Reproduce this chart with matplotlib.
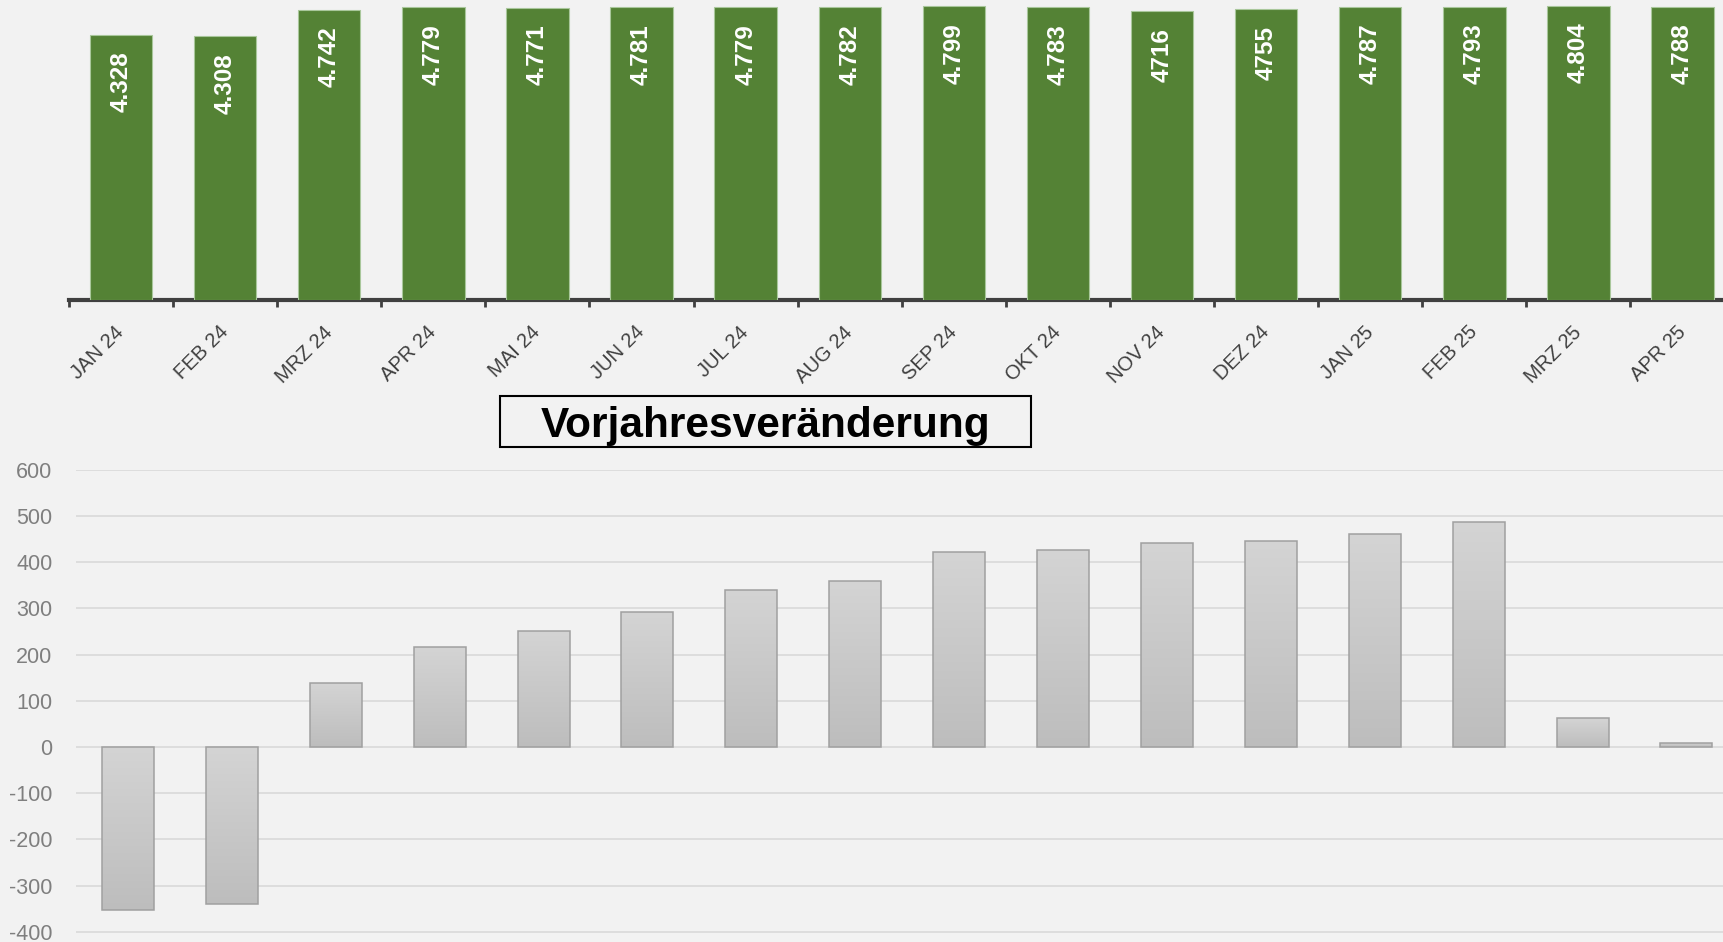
import numpy as np
import matplotlib
matplotlib.use("Agg")
import matplotlib.pyplot as plt
from matplotlib.colors import LinearSegmentedColormap
from matplotlib.patches import Rectangle

plt.rcParams['font.family'] = ['Liberation Sans', 'DejaVu Sans']
plt.rcParams['axes.unicode_minus'] = False

# data
months = ['JAN 24', 'FEB 24', 'MRZ 24', 'APR 24', 'MAI 24', 'JUN 24', 'JUL 24', 'AUG 24',
          'SEP 24', 'OKT 24', 'NOV 24', 'DEZ 24', 'JAN 25', 'FEB 25', 'MRZ 25', 'APR 25']
totals = [4328, 4308, 4742, 4779, 4771, 4781, 4779, 4782,
          4799, 4783, 4716, 4755, 4787, 4793, 4804, 4788]
total_labels = ['4.328', '4.308', '4.742', '4.779', '4.771', '4.781', '4.779', '4.782',
                '4.799', '4.783', '4716', '4755', '4.787', '4.793', '4.804', '4.788']
yoy = [-353, -339, 138, 216, 251, 291, 340, 359,
       421, 426, 441, 446, 460, 486, 62, 9]
yoy_ticks = [600, 500, 400, 300, 200, 100, 0, -100, -200, -300, -400]

W, H = 1724, 942
bg = '#f2f2f2'
fig = plt.figure(figsize=(W / 100, H / 100), dpi=100, facecolor=bg)

x = np.arange(len(months))

# top chart: totals
ax1 = fig.add_axes([69 / W, 1 - 300 / H, 16 * 104.1 / W, 300 / H])
ax1.set_facecolor(bg)
ax1.bar(x, totals, width=0.6, color='#548235', edgecolor='#a9c79b', linewidth=0.8, zorder=3)
for xi, v, lab in zip(x, totals, total_labels):
    ax1.annotate(lab, (xi, v), xytext=(0, -12), textcoords='offset points',
                 rotation=90, ha='center', va='top', color='white',
                 fontsize=17.5, fontweight='bold')
ax1.set_xlim(-0.5, len(months) - 0.5)
ax1.set_ylim(0, 4900)
ax1.set_yticks([])
for s in ['left', 'right', 'top']:
    ax1.spines[s].set_visible(False)
ax1.spines['bottom'].set_color('#404040')
ax1.spines['bottom'].set_linewidth(3)
ax1.set_xticks(x)
ax1.set_xticklabels(months, rotation=45, ha='right', va='center',
                    rotation_mode='anchor', fontsize=14.5, color='#404040')
ax1.tick_params(axis='x', which='major', length=0, pad=21)
ax1.set_xticks(np.arange(-0.5, len(months)), minor=True)
ax1.tick_params(axis='x', which='minor', length=5, width=2, color='#404040')

# title box
fig.add_artist(Rectangle((500 / W, 1 - 447 / H), 531 / W, 51 / H,
                         transform=fig.transFigure, fill=False,
                         edgecolor='black', linewidth=1.5))
fig.text(765.5 / W, 1 - 426 / H, 'Vorjahresveränderung', ha='center', va='center',
         fontsize=30.5, fontweight='bold', color='black')

# bottom chart: year-on-year change
ax2 = fig.add_axes([76 / W, 0, 16 * 103.9 / W, (942 - 469.7) / H])
ax2.set_facecolor(bg)
bars = ax2.bar(x, yoy, width=0.5, facecolor='none', edgecolor='#a0a0a0',
               linewidth=1.1, zorder=3)
cmap = LinearSegmentedColormap.from_list('grey_grad', ['#d4d4d4', '#bdbdbd'])
grad = np.linspace(0, 1, 256).reshape(-1, 1)
for b in bars:
    x0, w = b.get_x(), b.get_width()
    y0, y1 = sorted([b.get_y(), b.get_y() + b.get_height()])
    im = ax2.imshow(grad, extent=[x0, x0 + w, y0, y1], origin='upper',
                    cmap=cmap, aspect='auto', zorder=2.5)
    im.set_clip_path(b)
ax2.set_xlim(-0.5, len(months) - 0.5)
ax2.set_ylim(-422, 600)
ax2.set_yticks(yoy_ticks)
ax2.set_yticklabels([str(t) for t in yoy_ticks])
ax2.tick_params(axis='y', length=0, pad=17, labelsize=15.5, labelcolor='#7f7f7f')
ax2.set_xticks([])
ax2.grid(axis='y', color='#d9d9d9', linewidth=1.2, zorder=1)
ax2.set_axisbelow(True)
for s in ax2.spines.values():
    s.set_visible(False)

fig.savefig('out.png', dpi=100, facecolor=bg)
